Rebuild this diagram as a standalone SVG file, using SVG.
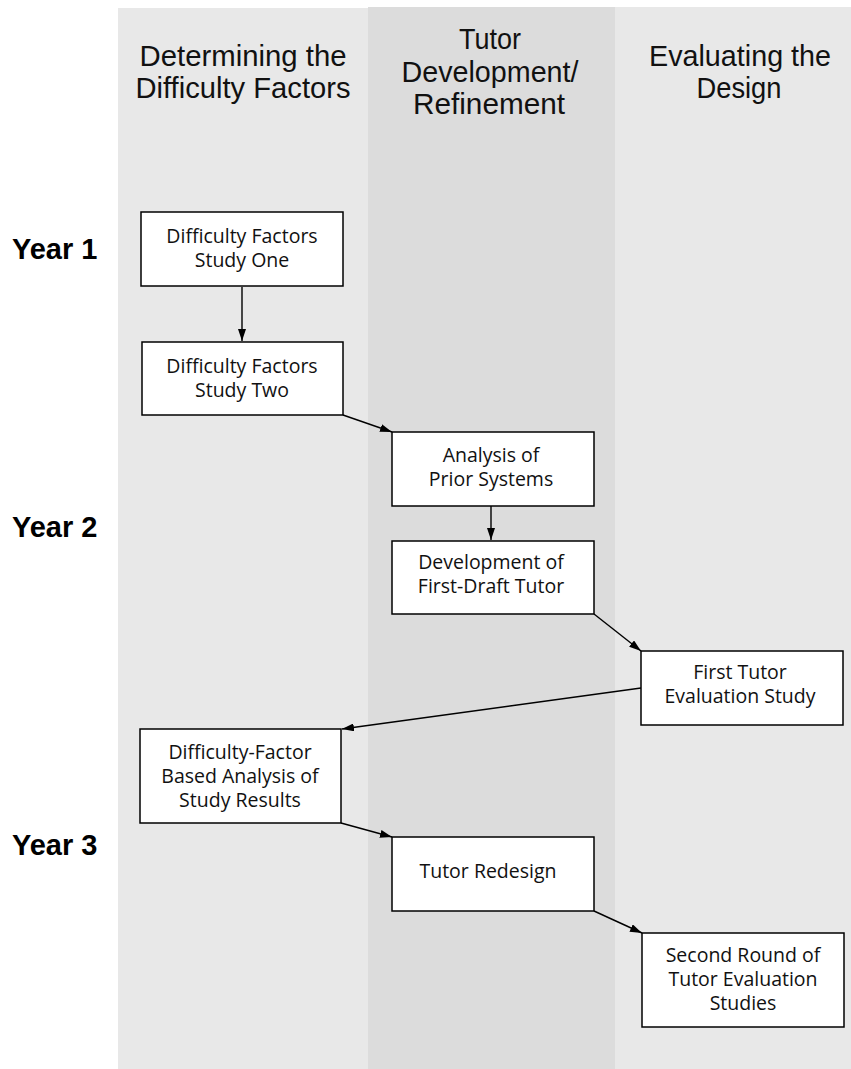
<svg xmlns="http://www.w3.org/2000/svg" width="851" height="1069" viewBox="0 0 851 1069">
<defs>
<marker id="ah" viewBox="0 0 12 8" refX="12" refY="4" markerWidth="12" markerHeight="8" markerUnits="userSpaceOnUse" orient="auto">
<path d="M0,0 L12,4 L0,8 Z" fill="#000"/>
</marker>
<style>
.hdr{font-family:"Liberation Sans",Arial,sans-serif;font-size:30px;fill:#111;text-anchor:middle}
.yr{font-family:"Liberation Sans",Arial,sans-serif;font-size:29px;font-weight:bold;fill:#000;text-anchor:start}
.box{fill:#fff;stroke:#000;stroke-width:1.5}
.bt{font-family:"Open Sans","Noto Sans",sans-serif;font-size:19.5px;fill:#111;text-anchor:middle}
.con{stroke:#000;stroke-width:1.4;fill:none;marker-end:url(#ah)}
</style>
</defs>
<rect x="0" y="0" width="851" height="1069" fill="#fff"/>
<rect x="118" y="8" width="250" height="1061" fill="#e8e8e8"/>
<rect x="368" y="7" width="247" height="1062" fill="#dcdcdc"/>
<rect x="615" y="7" width="236" height="1062" fill="#e8e8e8"/>
<g id="headers">
<text class="hdr" x="243" y="66" textLength="207" lengthAdjust="spacingAndGlyphs">Determining the</text>
<text class="hdr" x="243" y="98" textLength="215" lengthAdjust="spacingAndGlyphs">Difficulty Factors</text>
<text class="hdr" x="490" y="49" textLength="62" lengthAdjust="spacingAndGlyphs">Tutor</text>
<text class="hdr" x="490" y="82" textLength="177" lengthAdjust="spacingAndGlyphs">Development/</text>
<text class="hdr" x="489" y="114" textLength="152" lengthAdjust="spacingAndGlyphs">Refinement</text>
<text class="hdr" x="740" y="66" textLength="182" lengthAdjust="spacingAndGlyphs">Evaluating the</text>
<text class="hdr" x="739" y="98" textLength="85" lengthAdjust="spacingAndGlyphs">Design</text>
</g>
<g id="years">
<text class="yr" x="12" y="259">Year 1</text>
<text class="yr" x="12" y="537">Year 2</text>
<text class="yr" x="12" y="855">Year 3</text>
</g>
<g id="connectors">
<line class="con" x1="242" y1="287" x2="242" y2="341"/>
<line class="con" x1="343" y1="415" x2="392" y2="432"/>
<line class="con" x1="491" y1="506" x2="491" y2="540"/>
<line class="con" x1="594" y1="614" x2="641" y2="651"/>
<line class="con" x1="641" y1="688" x2="342" y2="729"/>
<line class="con" x1="341" y1="823" x2="392" y2="837"/>
<line class="con" x1="594" y1="911" x2="642" y2="933"/>
</g>
<g id="n1">
<rect class="box" x="141" y="212" width="202" height="74"/>
<text class="bt" x="242" y="243">Difficulty Factors</text>
<text class="bt" x="242" y="267">Study One</text>
</g>
<g id="n2">
<rect class="box" x="142" y="342" width="201" height="73"/>
<text class="bt" x="242" y="373">Difficulty Factors</text>
<text class="bt" x="242" y="397">Study Two</text>
</g>
<g id="n3">
<rect class="box" x="392" y="432" width="202" height="74"/>
<text class="bt" x="491" y="462">Analysis of</text>
<text class="bt" x="491" y="486">Prior Systems</text>
</g>
<g id="n4">
<rect class="box" x="392" y="541" width="202" height="73"/>
<text class="bt" x="491" y="569">Development of</text>
<text class="bt" x="491" y="593">First-Draft Tutor</text>
</g>
<g id="n5">
<rect class="box" x="641" y="651" width="202" height="74"/>
<text class="bt" x="740" y="679">First Tutor</text>
<text class="bt" x="740" y="703">Evaluation Study</text>
</g>
<g id="n6">
<rect class="box" x="140" y="729" width="201" height="94"/>
<text class="bt" x="240" y="759">Difficulty-Factor</text>
<text class="bt" x="240" y="783">Based Analysis of</text>
<text class="bt" x="240" y="807">Study Results</text>
</g>
<g id="n7">
<rect class="box" x="392" y="837" width="202" height="74"/>
<text class="bt" x="488" y="878">Tutor Redesign</text>
</g>
<g id="n8">
<rect class="box" x="642" y="933" width="202" height="94"/>
<text class="bt" x="743" y="962">Second Round of</text>
<text class="bt" x="743" y="986">Tutor Evaluation</text>
<text class="bt" x="743" y="1010">Studies</text>
</g>
</svg>
